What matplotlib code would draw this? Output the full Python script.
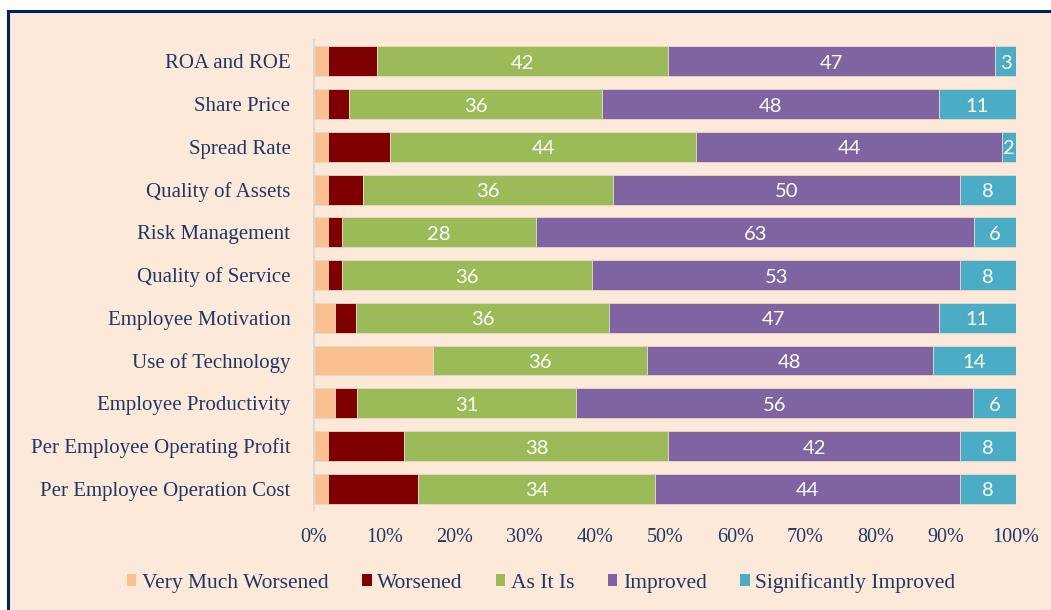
"""Horizontal 100% stacked bars: perceived change in bank indicators."""

import matplotlib.pyplot as plt
import numpy as np
from matplotlib.patches import Patch, Rectangle

categories = [
    "ROA and ROE",
    "Share Price",
    "Spread Rate",
    "Quality of Assets",
    "Risk Management",
    "Quality of Service",
    "Employee Motivation",
    "Use of Technology",
    "Employee Productivity",
    "Per Employee Operating Profit",
    "Per Employee Operation Cost",
]

very_much_worsened = [2, 2, 2, 2, 2, 2, 3, 20, 3, 2, 2]
worsened = [7, 3, 9, 5, 2, 2, 3, 0, 3, 11, 13]
as_it_is = [42, 36, 44, 36, 28, 36, 36, 36, 31, 38, 34]
improved = [47, 48, 44, 50, 63, 53, 47, 48, 56, 42, 44]
significantly_improved = [3, 11, 2, 8, 6, 8, 11, 14, 6, 8, 8]

series_names = ["Very Much Worsened", "Worsened", "As It Is", "Improved",
                "Significantly Improved"]
series_colors = ["#FAC090", "#7F0000", "#9BBB59", "#8064A2", "#4BACC6"]
labelled = [False, False, True, True, True]

x_ticks = [0, 10, 20, 30, 40, 50, 60, 70, 80, 90, 100]

navy = "#1F3864"
bg = "#FDE9D9"

series = np.array([very_much_worsened, worsened, as_it_is, improved,
                   significantly_improved], dtype=float)
shares = series / series.sum(axis=0) * 100

fig = plt.figure(figsize=(10.51, 6.10), dpi=100, facecolor="white")

# Рамка области диаграммы (правый и нижний края в оригинале обрезаны).
fig.patches.append(Rectangle((7.5 / 1051, -0.1), 1.2, 1.1 - 10.5 / 610,
                             transform=fig.transFigure, facecolor=bg,
                             edgecolor="#002060", linewidth=2.2, zorder=-1))

ax = fig.add_axes([314 / 1051, 1 - 510 / 610, 702 / 1051, 470 / 610])
ax.set_facecolor("none")

y = np.arange(len(categories))
left = np.zeros(len(categories))
for vals, raw, name, color, show in zip(shares, series, series_names,
                                        series_colors, labelled):
    ax.barh(y, vals, left=left, height=0.7, color=color, edgecolor="#E8D8CC",
            linewidth=0.6, label=name)
    if show:
        for yi, l, v, r in zip(y, left, vals, raw):
            ax.text(l + v / 2, yi + 0.05, f"{r:.0f}", ha="center",
                    va="center", color="white", fontsize=14.5, family="Lato")
    left += vals

ax.set_xlim(0, 100)
ax.set_ylim(len(categories) - 0.5, -0.5)
ax.set_yticks(y)
ax.set_yticklabels(categories, family="Liberation Serif", fontsize=15,
                   color=navy)
ax.set_xticks(x_ticks)
ax.set_xticklabels([f"{t}%" for t in x_ticks], family="Liberation Serif",
                   fontsize=14.5, color=navy)
ax.tick_params(axis="y", length=0, pad=17)
ax.tick_params(axis="x", length=0, pad=13)

for side in ["top", "right", "bottom"]:
    ax.spines[side].set_visible(False)
ax.spines["left"].set_color("#D9D9D9")
ax.spines["left"].set_linewidth(1.5)

handles = [Patch(facecolor=c, edgecolor="none") for c in series_colors]
fig.legend(handles, series_names, loc="center", ncol=5,
           bbox_to_anchor=(541 / 1051, 1 - 583 / 610), frameon=False,
           prop={"family": "Liberation Serif", "size": 15.5},
           labelcolor=navy, handlelength=0.45, handleheight=0.45,
           handletextpad=0.25, columnspacing=1.55)

fig.savefig("out.png", dpi=100, facecolor="white")
